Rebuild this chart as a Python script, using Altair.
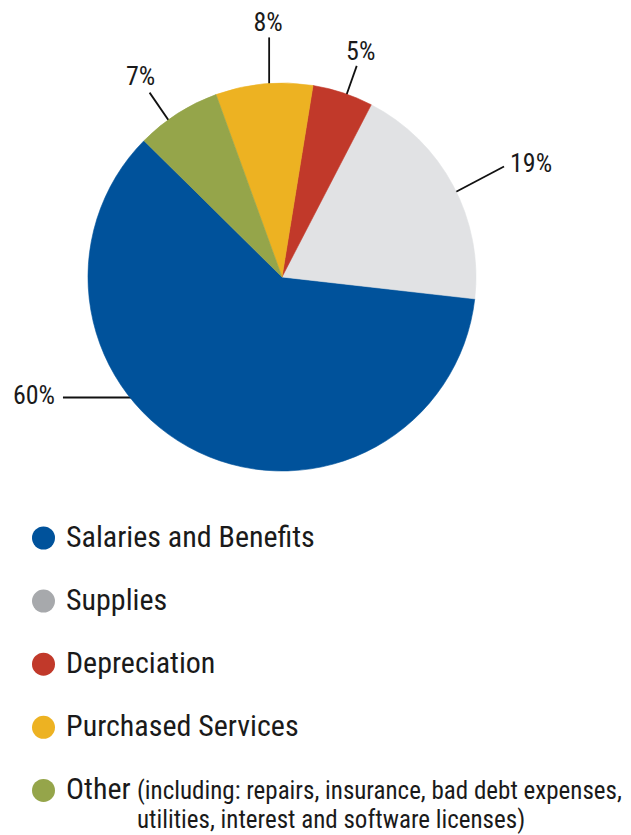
import math
import altair as alt
import pandas as pd

# ---------------- data ----------------
categories = ["Salaries and Benefits", "Supplies", "Depreciation", "Purchased Services", "Other"]
shares = [60, 19, 5, 8, 7]
pct_labels = ["60%", "19%", "5%", "8%", "7%"]
slice_colors = ["#00529B", "#E1E2E4", "#C1392A", "#EDB222", "#95A54A"]
legend_colors = ["#00529B", "#A7A9AC", "#C1392A", "#EDB222", "#95A54A"]
pie_sequence = ["Depreciation", "Supplies", "Salaries and Benefits", "Other", "Purchased Services"]
legend_labels = ["Salaries and Benefits", "Supplies", "Depreciation", "Purchased Services", "Other"]
other_note = ["(including: repairs, insurance, bad debt expenses,",
              "utilities, interest and software licenses)"]

# ---------------- layout (pixels) ----------------
W, H = 615, 819          # view size
CX, CY = 274, 269        # pie centre inside the view
R = 194                  # pie radius
START_DEG = 9.2          # where the first slice starts (clockwise from 12 o'clock)
FONT = "Roboto Condensed"

# leader lines: anchor angle on the rim, direction, length, label offset from line end
leaders = {
    "Depreciation":          dict(anchor=19.5,   direction=19.4,  length=30, off=(4, 14)),
    "Purchased Services":    dict(anchor=-3.8,   direction=0.0,   length=46, off=(-1, 14)),
    "Other":                 dict(anchor=-35.9,  direction=-34.4, length=33, off=(-9, 16)),
    "Supplies":              dict(anchor=63.9,   direction=62.3,  length=54, off=(27, 3)),
    "Salaries and Benefits": dict(anchor=231.6,  direction=270.0, length=67, off=(-29, 2)),
}

def polar(deg, r):
    a = math.radians(deg)
    return r * math.sin(a), r * math.cos(a)

rule_rows, lab_rows = [], []
for cat, lab in zip(categories, pct_labels):
    g = leaders[cat]
    ax, ay = polar(g["anchor"], R)
    dx, dy = polar(g["direction"], 1.0)
    x0, y0 = ax - 6 * dx, ay - 6 * dy
    x1, y1 = ax + g["length"] * dx, ay + g["length"] * dy
    rule_rows.append(dict(category=cat, x=x0, y=y0, x2=x1, y2=y1))
    lab_rows.append(dict(category=cat, label=lab, x=x1 + g["off"][0], y=y1 + g["off"][1]))
rules_df = pd.DataFrame(rule_rows)
labs_df = pd.DataFrame(lab_rows)

pie_df = pd.DataFrame({
    "category": categories,
    "share": shares,
    "seq": [pie_sequence.index(c) for c in categories],
})

ROW0, STEP = -261, -63.1
LEG_X, TXT_X, NOTE_X = -238.5, -216, -145
leg_df = pd.DataFrame({
    "category": legend_labels,
    "x": [LEG_X] * len(legend_labels),
    "tx": [TXT_X] * len(legend_labels),
    "y": [ROW0 + STEP * i for i in range(len(legend_labels))],
})
note_y = ROW0 + STEP * (len(legend_labels) - 1) - 9
note_df = pd.DataFrame({
    "text": other_note,
    "x": [NOTE_X] * len(other_note),
    "y": [note_y - 29 * i for i in range(len(other_note))],
})

xs = alt.Scale(domain=[-CX, W - CX], nice=False, zero=False)
ys = alt.Scale(domain=[-(H - CY), CY], nice=False, zero=False)

start = math.radians(START_DEG)

rules = alt.Chart(rules_df).mark_rule(color="#111111", strokeWidth=1.8).encode(
    x=alt.X("x:Q", scale=xs, axis=None),
    y=alt.Y("y:Q", scale=ys, axis=None),
    x2="x2:Q",
    y2="y2:Q",
)

pie = alt.Chart(pie_df).mark_arc(radius=R, strokeWidth=0.6).encode(
    theta=alt.Theta("share:Q", stack=True, scale=alt.Scale(range=[start, start + 2 * math.pi])),
    color=alt.Color("category:N", scale=alt.Scale(domain=categories, range=slice_colors), legend=None),
    stroke=alt.Stroke("category:N", scale=alt.Scale(domain=categories, range=slice_colors), legend=None),
    order=alt.Order("seq:Q", sort="ascending"),
    x=alt.value(CX),
    y=alt.value(CY),
)

pct = alt.Chart(labs_df).mark_text(
    font=FONT, fontSize=26, color="#1A1A1A", align="center", baseline="middle"
).encode(
    x=alt.X("x:Q", scale=xs, axis=None),
    y=alt.Y("y:Q", scale=ys, axis=None),
    text="label:N",
)

# Vega circle symbol: diameter = sqrt(size) -> 23 px dots
dots = alt.Chart(leg_df).mark_point(filled=True, shape="circle", size=529, opacity=1).encode(
    x=alt.X("x:Q", scale=xs, axis=None),
    y=alt.Y("y:Q", scale=ys, axis=None),
    fill=alt.Fill("category:N", scale=alt.Scale(domain=categories, range=legend_colors), legend=None),
)

leg_text = alt.Chart(leg_df).mark_text(
    font=FONT, fontSize=30, color="#1A1A1A", align="left", baseline="middle"
).encode(
    x=alt.X("tx:Q", scale=xs, axis=None),
    y=alt.Y("y:Q", scale=ys, axis=None),
    text="category:N",
)

note = alt.Chart(note_df).mark_text(
    font=FONT, fontSize=25, color="#1A1A1A", align="left", baseline="alphabetic"
).encode(
    x=alt.X("x:Q", scale=xs, axis=None),
    y=alt.Y("y:Q", scale=ys, axis=None),
    text="text:N",
)

chart = alt.layer(rules, pie, pct, dots, leg_text, note).properties(
    width=W, height=H, padding=0, background="white"
).configure_view(stroke=None)

chart.save("out.html", embed_options={"renderer": "svg", "actions": False})
